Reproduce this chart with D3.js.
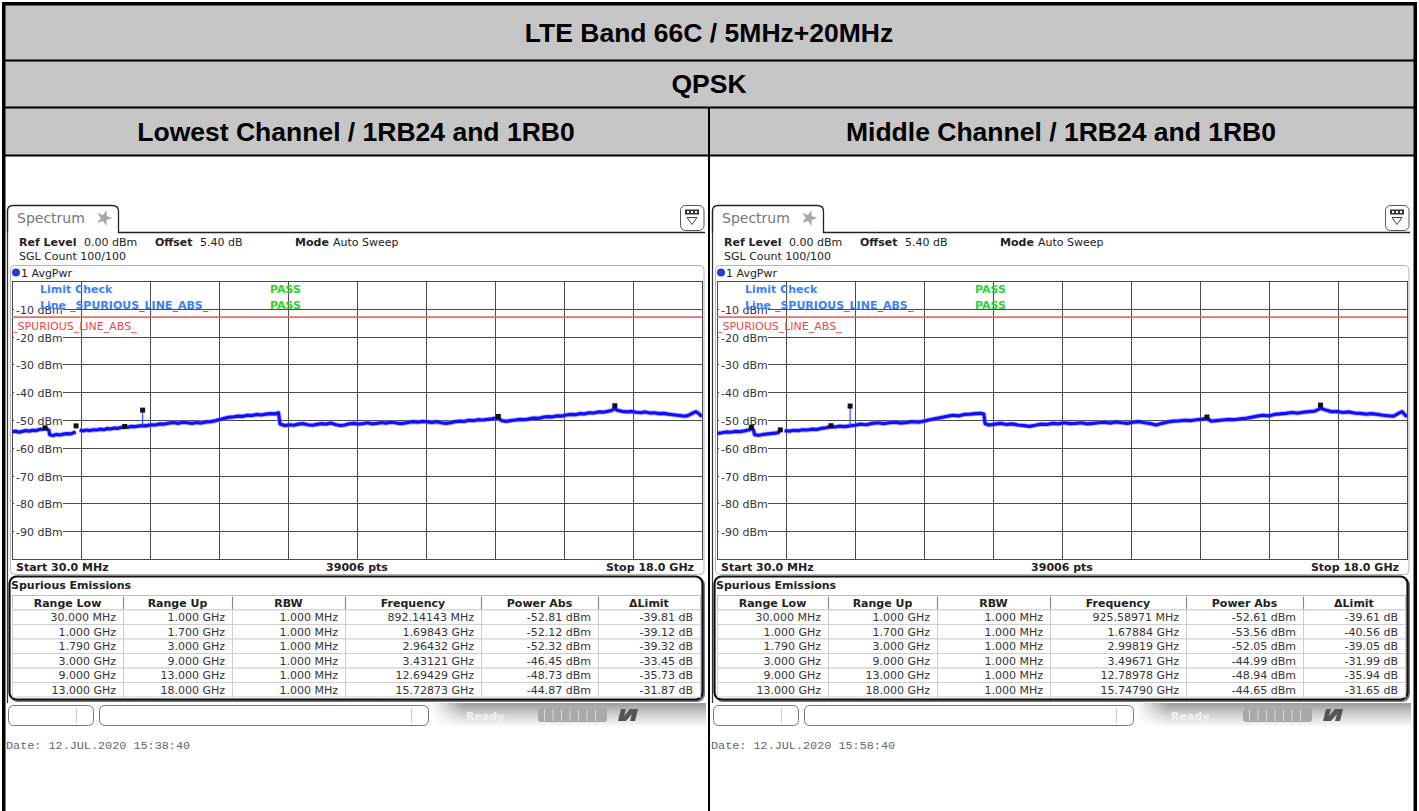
<!DOCTYPE html>
<html><head><meta charset="utf-8">
<script src="https://cdn.jsdelivr.net/npm/d3@7"></script>
<style>html,body{margin:0;padding:0;background:#fff;overflow:hidden}</style>
</head><body><svg id="c" width="1419" height="811"></svg>
<script>
// ---------------- DATA ----------------
const titleText = "LTE Band 66C / 5MHz+20MHz";
const modulationText = "QPSK";
const panelTitles = ["Lowest Channel / 1RB24 and 1RB0", "Middle Channel / 1RB24 and 1RB0"];
const startGHz = 0.03, stopGHz = 18.0;
const refLevel = 0, refMin = -100;
const yTickValues = [-10, -20, -30, -40, -50, -60, -70, -80, -90];
const yTickLabels = ["-10 dBm", "-20 dBm", "-30 dBm", "-40 dBm", "-50 dBm", "-60 dBm", "-70 dBm", "-80 dBm", "-90 dBm"];
const limitLevel = -13;
const limitName = "_SPURIOUS_LINE_ABS_";
const tableColumns = ["Range Low", "Range Up", "RBW", "Frequency", "Power Abs", "\u0394Limit"];
const rangeLow = ["30.000 MHz", "1.000 GHz", "1.790 GHz", "3.000 GHz", "9.000 GHz", "13.000 GHz"];
const rangeUp = ["1.000 GHz", "1.700 GHz", "3.000 GHz", "9.000 GHz", "13.000 GHz", "18.000 GHz"];
const rbw = ["1.000 MHz", "1.000 MHz", "1.000 MHz", "1.000 MHz", "1.000 MHz", "1.000 MHz"];
const lowPeakGHz = [0.89214143, 1.69843, 2.96432, 3.43121, 12.69429, 15.72873];
const lowPeakDbm = [-52.81, -52.12, -52.32, -46.45, -48.73, -44.87];
const midPeakGHz = [0.92558971, 1.67884, 2.99819, 3.49671, 12.78978, 15.74790];
const midPeakDbm = [-52.61, -53.56, -52.05, -44.99, -48.94, -44.65];
const lowSpikeBase = -52.0, midSpikeBase = -52.1;
const dates = ["Date: 12.JUL.2020  15:38:40", "Date: 12.JUL.2020  15:58:40"];

// trace: [GHz, dBm]; null = gap (excluded band)
const lowTrace = [[0.03,-54.3],[0.12,-54.0],[0.21,-54.4],[0.30,-54.1],[0.39,-53.8],[0.48,-54.0],[0.57,-53.7],[0.66,-53.8],[0.75,-53.4],[0.84,-53.3],[0.89,-53.0],[0.95,-53.4],[0.99,-53.7],[1.01,-55.3],[1.10,-55.6],[1.19,-55.2],[1.28,-55.4],[1.37,-55.1],[1.46,-54.9],[1.55,-55.0],[1.63,-54.6],[1.69,-54.3],[1.74,null],[1.79,-53.6],[1.88,-53.9],[1.97,-53.6],[2.06,-53.8],[2.15,-53.5],[2.24,-53.6],[2.33,-53.3],[2.42,-53.5],[2.51,-53.1],[2.60,-53.2],[2.69,-52.9],[2.78,-53.0],[2.87,-52.7],[2.96,-52.5],[3.05,-52.6],[3.14,-52.3],[3.23,-52.4],[3.32,-52.2],[3.43,-52.0],[3.52,-52.1],[3.64,-51.7],[3.76,-51.8],[3.88,-51.4],[4.00,-51.5],[4.12,-51.1],[4.24,-50.9],[4.36,-51.2],[4.48,-50.8],[4.60,-51.0],[4.72,-51.2],[4.84,-50.9],[4.96,-51.1],[5.08,-50.7],[5.20,-50.6],[5.32,-50.3],[5.44,-49.8],[5.56,-49.4],[5.68,-49.0],[5.80,-48.9],[5.92,-48.6],[6.04,-48.7],[6.16,-48.3],[6.28,-48.4],[6.40,-48.0],[6.52,-48.2],[6.64,-47.9],[6.76,-47.7],[6.88,-47.8],[6.97,-47.4],[7.01,-51.4],[7.13,-52.0],[7.25,-51.7],[7.37,-51.9],[7.49,-51.5],[7.61,-51.3],[7.73,-51.7],[7.85,-51.9],[7.97,-51.6],[8.09,-51.3],[8.21,-51.5],[8.33,-51.1],[8.45,-51.6],[8.57,-52.0],[8.69,-51.8],[8.81,-51.4],[8.93,-51.2],[9.05,-51.5],[9.17,-51.3],[9.29,-51.0],[9.41,-51.4],[9.53,-51.2],[9.65,-50.9],[9.77,-51.1],[9.89,-50.8],[10.01,-51.0],[10.13,-51.3],[10.25,-51.1],[10.37,-50.8],[10.49,-50.6],[10.61,-50.8],[10.73,-50.5],[10.85,-50.7],[10.97,-50.9],[11.09,-50.6],[11.21,-51.0],[11.33,-51.2],[11.45,-51.0],[11.57,-50.6],[11.69,-50.4],[11.81,-50.5],[11.93,-50.1],[12.05,-50.2],[12.17,-49.9],[12.29,-50.0],[12.41,-49.8],[12.53,-49.6],[12.63,-49.3],[12.70,-49.4],[12.78,-50.2],[12.90,-50.5],[13.02,-50.2],[13.14,-50.0],[13.26,-49.8],[13.38,-49.9],[13.50,-49.6],[13.62,-49.3],[13.74,-49.4],[13.86,-49.0],[13.98,-48.8],[14.10,-48.9],[14.22,-48.5],[14.34,-48.6],[14.46,-48.2],[14.58,-48.0],[14.70,-48.1],[14.82,-47.7],[14.94,-47.8],[15.06,-47.4],[15.18,-47.5],[15.30,-47.1],[15.42,-47.2],[15.54,-46.9],[15.64,-46.6],[15.73,-45.9],[15.80,-46.5],[15.92,-46.9],[16.04,-47.1],[16.16,-46.9],[16.28,-47.2],[16.40,-47.4],[16.52,-47.1],[16.64,-47.5],[16.76,-47.4],[16.88,-47.7],[17.00,-47.6],[17.12,-47.9],[17.24,-48.1],[17.36,-48.3],[17.48,-48.5],[17.58,-48.6],[17.68,-48.1],[17.76,-47.5],[17.84,-47.0],[17.91,-47.6],[17.96,-48.3],[18.00,-48.7]];

const midTrace = [[0.03,-54.8],[0.15,-54.6],[0.27,-54.3],[0.39,-54.4],[0.51,-54.1],[0.63,-54.2],[0.75,-53.9],[0.87,-53.5],[0.93,-53.1],[0.98,-53.6],[1.01,-55.3],[1.12,-55.5],[1.24,-55.2],[1.36,-55.0],[1.48,-54.8],[1.60,-54.6],[1.67,-54.3],[1.74,null],[1.79,-53.8],[1.91,-54.0],[2.03,-53.7],[2.15,-53.8],[2.27,-53.5],[2.39,-53.6],[2.51,-53.3],[2.63,-53.4],[2.75,-53.0],[2.87,-52.8],[2.99,-52.4],[3.11,-52.5],[3.23,-52.2],[3.35,-52.4],[3.50,-52.1],[3.62,-51.9],[3.77,-51.5],[3.92,-51.7],[4.07,-51.2],[4.22,-51.0],[4.37,-51.3],[4.52,-51.0],[4.67,-50.8],[4.82,-51.1],[4.97,-50.9],[5.12,-50.6],[5.27,-50.8],[5.42,-50.4],[5.57,-49.9],[5.72,-49.5],[5.87,-49.1],[6.02,-48.7],[6.17,-48.3],[6.32,-48.5],[6.47,-48.0],[6.62,-47.9],[6.77,-47.7],[6.90,-47.6],[6.98,-47.9],[7.01,-51.3],[7.12,-51.8],[7.27,-51.5],[7.42,-51.2],[7.57,-51.6],[7.72,-51.4],[7.87,-51.8],[8.02,-52.0],[8.17,-52.3],[8.32,-51.9],[8.47,-51.5],[8.62,-51.6],[8.77,-51.2],[8.92,-51.4],[9.07,-51.0],[9.22,-51.3],[9.37,-51.2],[9.52,-51.0],[9.67,-51.4],[9.82,-51.2],[9.97,-51.0],[10.12,-50.8],[10.27,-51.1],[10.42,-50.7],[10.57,-51.0],[10.72,-51.2],[10.87,-50.8],[11.02,-50.6],[11.17,-51.0],[11.32,-51.3],[11.47,-51.8],[11.62,-51.2],[11.77,-50.7],[11.92,-50.4],[12.07,-50.3],[12.22,-50.1],[12.37,-50.2],[12.52,-49.9],[12.67,-49.7],[12.79,-49.4],[12.90,-50.4],[13.05,-50.2],[13.20,-50.0],[13.35,-49.8],[13.50,-49.9],[13.65,-49.6],[13.80,-49.4],[13.95,-49.0],[14.10,-48.6],[14.25,-48.3],[14.40,-48.5],[14.55,-48.0],[14.70,-47.8],[14.85,-47.6],[15.00,-47.3],[15.15,-47.5],[15.30,-47.2],[15.45,-47.0],[15.60,-46.8],[15.75,-45.8],[15.88,-46.4],[16.03,-47.0],[16.18,-46.9],[16.33,-47.3],[16.48,-47.1],[16.63,-47.5],[16.78,-47.6],[16.93,-47.9],[17.08,-47.7],[17.23,-48.0],[17.38,-48.3],[17.53,-48.5],[17.65,-48.6],[17.78,-47.6],[17.87,-47.0],[17.95,-48.2],[18.00,-48.8]];

// ---------------- DRAW ----------------
const svg = d3.select("#c");
const defs = svg.append("defs");
const gr = defs.append("linearGradient").attr("id","sb").attr("x1",0).attr("y1",0).attr("x2",0).attr("y2",1);
gr.append("stop").attr("offset","0").attr("stop-color","#9c9c9c");
gr.append("stop").attr("offset","0.55").attr("stop-color","#d6d6d6");
gr.append("stop").attr("offset","1").attr("stop-color","#f8f8f8");
const gh = defs.append("linearGradient").attr("id","sbh").attr("x1",0).attr("y1",0).attr("x2",1).attr("y2",0);
gh.append("stop").attr("offset","0").attr("stop-color","#fff").attr("stop-opacity",1);
gh.append("stop").attr("offset","0.12").attr("stop-color","#fff").attr("stop-opacity",0);

const SANS = "'Liberation Sans', Arial, sans-serif";
const VER = "'DejaVu Sans', Verdana, sans-serif";

// report table frame
svg.append("rect").attr("x",4).attr("y",4).attr("width",1411).attr("height",151).attr("fill","#c6c6c6");
[60.5, 107.5, 155.5].forEach(yy => svg.append("line").attr("x1",4).attr("x2",1415).attr("y1",yy).attr("y2",yy).attr("stroke","#000").attr("stroke-width",2));
svg.append("line").attr("x1",709).attr("x2",709).attr("y1",107).attr("y2",820).attr("stroke","#000").attr("stroke-width",2);
svg.append("rect").attr("x",3.75).attr("y",3.75).attr("width",1411.5).attr("height",830).attr("fill","none").attr("stroke","#000").attr("stroke-width",3.5);

const hdr = (t, x, y) => svg.append("text").attr("x",x).attr("y",y).attr("text-anchor","middle")
  .attr("font-family",SANS).attr("font-weight","bold").attr("font-size",26.5).attr("fill","#000").text(t);
hdr(titleText, 709, 42);
hdr(modulationText, 709, 93);
hdr(panelTitles[0], 356, 141);
hdr(panelTitles[1], 1061, 141);

function drawPanel(ox, trace, pkF, pkP, spikeBase, dateText) {
  const g = svg.append("g");
  const X0 = 12 + ox, X1 = 702 + ox, YT = 281, YB = 559;
  const x = d3.scaleLinear().domain([startGHz, stopGHz]).range([X0, X1]);
  const y = d3.scaleLinear().domain([refMin, refLevel]).range([YB, YT]);
  const txt = (t, xx, yy, o = {}) => g.append("text").attr("x", xx).attr("y", yy)
    .attr("font-family", o.ff || VER).attr("font-size", o.fs || 11).attr("font-weight", o.fw || "normal")
    .attr("fill", o.fill || "#222").attr("text-anchor", o.anchor || "start").text(t);

  // panel left border + tab
  g.append("line").attr("x1",ox+7.5).attr("x2",ox+7.5).attr("y1",210).attr("y2",703).attr("stroke","#333").attr("stroke-width",1.2);
  g.append("path").attr("d",`M${ox+7.5},232 V211 Q${ox+7.5},205.5 ${ox+13},205.5 H${ox+112} Q${ox+118.5},205.5 ${ox+118.5},211 V232.5 H${ox+705}`)
    .attr("fill","none").attr("stroke","#222").attr("stroke-width",1.3);
  txt("Spectrum", ox+17, 223, {fs:14, fill:"#777"});
  g.append("path").attr("d", d3.symbol(d3.symbolStar, 80)()).attr("transform",`translate(${ox+104},218) rotate(18)`).attr("fill","#a8a8a8");
  // top-right icon
  g.append("rect").attr("x",ox+680.5).attr("y",205.5).attr("width",23.5).attr("height",25).attr("rx",5).attr("fill","#fff").attr("stroke","#555");
  g.append("rect").attr("x",ox+685).attr("y",209.5).attr("width",14).attr("height",5).attr("fill","#333");
  [687,691,695].forEach(d => g.append("rect").attr("x",ox+d).attr("y",211).attr("width",2).attr("height",2).attr("fill","#fff"));
  g.append("path").attr("d",`M${ox+687},217.5 H${ox+697} L${ox+692},224.5 Z`).attr("fill","none").attr("stroke","#444");

  // info lines
  txt("Ref Level", ox+19, 246, {fw:"bold"});
  txt("0.00 dBm", ox+84, 246);
  txt("Offset", ox+155, 246, {fw:"bold"});
  txt("5.40 dB", ox+200, 246);
  txt("Mode", ox+295, 246, {fw:"bold"});
  txt("Auto Sweep", ox+333, 246);
  txt("SGL Count 100/100", ox+19, 260);

  // trace window frame
  g.append("rect").attr("x",ox+10.5).attr("y",265.5).attr("width",693.5).attr("height",309).attr("rx",4).attr("fill","none").attr("stroke","#b4b4b4");
  g.append("circle").attr("cx",ox+16).attr("cy",272.5).attr("r",4).attr("fill","#1f3fd8");
  txt("1 AvgPwr", ox+21, 277);

  // grid
  const vx = d3.range(11).map(i => startGHz + i * (stopGHz - startGHz) / 10);
  g.selectAll(null).data(vx).enter().append("line")
    .attr("x1", d => Math.round(x(d)) + 0.5).attr("x2", d => Math.round(x(d)) + 0.5).attr("y1", YT).attr("y2", YB)
    .attr("stroke","#4a4a4a").attr("stroke-width",1);
  g.selectAll(null).data([refLevel, ...yTickValues, refMin]).enter().append("line")
    .attr("x1", X0).attr("x2", X1 + 1).attr("y1", d => Math.round(y(d)) + 0.5).attr("y2", d => Math.round(y(d)) + 0.5)
    .attr("stroke","#4a4a4a").attr("stroke-width",1);
  // y labels
  yTickValues.forEach((v, i) => {
    const yy = Math.round(y(v)) + 0.5;
    g.append("rect").attr("x", ox+14).attr("y", yy - 6).attr("width", 49).attr("height", 12).attr("fill","#fff");
    txt(yTickLabels[i], ox+16, yy + 4, {fill:"#333"});
  });
  // limit line
  g.append("line").attr("x1",X0).attr("x2",X1).attr("y1",y(limitLevel)).attr("y2",y(limitLevel))
    .attr("stroke","#f26a6a").attr("stroke-width",1.6);
  txt(limitName, ox+12, 330, {fill:"#f04848"});
  txt("Limit Check", ox+40, 293, {fw:"bold", fill:"#3d80ff"});
  txt("Line " + limitName, ox+40, 309, {fw:"bold", fill:"#3d80ff"});
  txt("PASS", ox+270, 293, {fw:"bold", fill:"#2ad42a"});
  txt("PASS", ox+270, 309, {fw:"bold", fill:"#2ad42a"});

  // trace
  const clipId = "clip" + ox;
  defs.append("clipPath").attr("id", clipId).append("rect").attr("x", X0).attr("y", YT).attr("width", X1 - X0).attr("height", YB - YT);
  const line = d3.line().defined(d => d[1] !== null).x(d => x(d[0])).y(d => y(d[1]));
  const tg = g.append("g").attr("clip-path", `url(#${clipId})`);
  tg.append("path").attr("d", line(trace)).attr("fill","none").attr("stroke","#7a7aff").attr("stroke-width",5).attr("stroke-opacity",0.55).attr("stroke-linejoin","round");
  tg.append("path").attr("d", line(trace)).attr("fill","none").attr("stroke","#1010ff").attr("stroke-width",3.2).attr("stroke-linejoin","round");
  // spike at the largest-deviation marker (4th range)
  tg.append("line").attr("x1", x(pkF[3])).attr("x2", x(pkF[3])).attr("y1", y(spikeBase)).attr("y2", y(pkP[3]))
    .attr("stroke","#3050ff").attr("stroke-width",1.2);
  tg.selectAll(null).data(pkF.map((f, i) => [f, pkP[i]])).enter().append("rect")
    .attr("x", d => x(d[0]) - 2.5).attr("y", d => y(d[1]) - 2.5).attr("width",5).attr("height",5).attr("fill","#111");

  // bottom axis row
  txt("Start 30.0 MHz", ox+16, 571, {fw:"bold"});
  txt("39006 pts", ox+357, 571, {fw:"bold", anchor:"middle"});
  txt("Stop 18.0 GHz", ox+694, 571, {fw:"bold", anchor:"end"});

  // spurious emissions table
  g.append("rect").attr("x",ox+11).attr("y",578).attr("width",693).attr("height",123).attr("rx",7).attr("fill","none").attr("stroke","#777").attr("stroke-width",2);
  g.append("rect").attr("x",ox+9.5).attr("y",576.5).attr("width",693).attr("height",123).attr("rx",7).attr("fill","#fff").attr("stroke","#111").attr("stroke-width",2.2);
  txt("Spurious Emissions", ox+11, 589, {fw:"bold"});
  const cols = [12, 123, 232, 345, 481, 598, 700].map(c => c + ox);
  const hTop = 595.5, rowH = 14.5;
  g.append("rect").attr("x",cols[0]+0.5).attr("y",hTop).attr("width",cols[6]-cols[0]).attr("height",rowH).attr("fill","#fff").attr("stroke","#bdbdbd");
  tableColumns.forEach((c, j) => {
    if (j > 0) g.append("line").attr("x1",cols[j]+0.5).attr("x2",cols[j]+0.5).attr("y1",hTop+1).attr("y2",hTop+rowH).attr("stroke","#8a8a8a").attr("stroke-width",1.2);
    txt(c, (cols[j] + cols[j+1]) / 2, hTop + 11, {fw:"bold", anchor:"middle"});
  });
  const fmtF = f => f < 1 ? (f * 1000).toFixed(5) + " MHz" : f.toFixed(5) + " GHz";
  const rows = rangeLow.map((r, i) => [r, rangeUp[i], rbw[i], fmtF(pkF[i]), pkP[i].toFixed(2) + " dBm", (pkP[i] - limitLevel).toFixed(2) + " dB"]);
  rows.forEach((row, i) => {
    const top = hTop + rowH * (i + 1);
    row.forEach((cell, j) => {
      g.append("rect").attr("x",cols[j]+0.5).attr("y",top).attr("width",cols[j+1]-cols[j]).attr("height",rowH)
        .attr("fill","#fff").attr("stroke","#cfcfcf");
      txt(cell, cols[j+1] - 7, top + 11, {anchor:"end", fill:"#333"});
    });
  });

  // status bar
  g.append("rect").attr("x",ox+430).attr("y",703).attr("width",276).attr("height",23).attr("fill","url(#sb)");
  g.append("rect").attr("x",ox+430).attr("y",703).attr("width",276).attr("height",23).attr("fill","url(#sbh)");
  g.append("rect").attr("x",ox+8.5).attr("y",705.5).attr("width",85).attr("height",20).attr("rx",5).attr("fill","#fff").attr("stroke","#777");
  g.append("line").attr("x1",ox+76.5).attr("x2",ox+76.5).attr("y1",708).attr("y2",723).attr("stroke","#ccc");
  g.append("rect").attr("x",ox+99.5).attr("y",705.5).attr("width",329).attr("height",20).attr("rx",5).attr("fill","#fff").attr("stroke","#777");
  g.append("line").attr("x1",ox+411.5).attr("x2",ox+411.5).attr("y1",708).attr("y2",723).attr("stroke","#ccc");
  txt("Ready", ox+466, 720, {fw:"bold", fill:"#f2f2f2"});
  g.append("rect").attr("x",ox+538).attr("y",708).attr("width",69).attr("height",14).attr("rx",3).attr("fill","#a9a9a9");
  d3.range(7).forEach(k => g.append("line").attr("x1",ox+544.5+k*8.5).attr("x2",ox+544.5+k*8.5).attr("y1",709).attr("y2",721).attr("stroke","#d8d8d8"));
  g.append("path").attr("d",`M${ox+618},721 L${ox+621},709 L${ox+626},709 L${ox+624},716 L${ox+630},709 L${ox+638},709 L${ox+635},721 L${ox+630},721 L${ox+632},714 L${ox+626},721 Z`).attr("fill","#555");

  txt(dateText, ox+6, 749, {ff:"'Liberation Mono', 'Courier New', monospace", fs:11.8, fill:"#666"});
}

drawPanel(0, lowTrace, lowPeakGHz, lowPeakDbm, lowSpikeBase, dates[0]);
drawPanel(705, midTrace, midPeakGHz, midPeakDbm, midSpikeBase, dates[1]);
</script></body></html>
